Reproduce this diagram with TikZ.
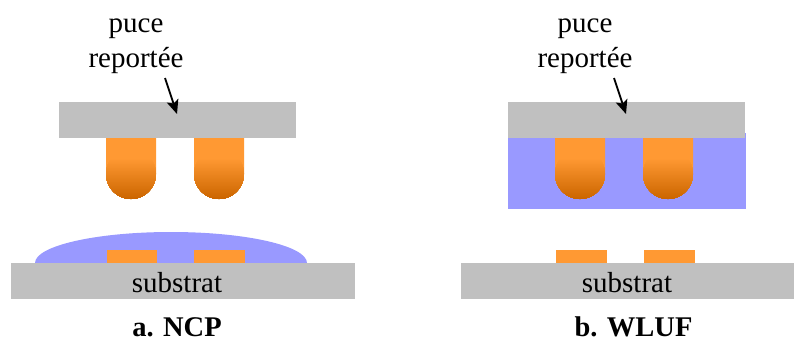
\documentclass[tikz,border=0pt]{standalone}
\usepackage{fontspec}
\setmainfont{Liberation Serif}
\usetikzlibrary{arrows.meta}
\definecolor{chipgrey}{HTML}{C0C0C0}
\definecolor{bumporange}{HTML}{FF9933}
\definecolor{bumpdark}{HTML}{CC6600}
\definecolor{glue}{HTML}{9999FF}
\tikzset{
  x=1pt,y=-1pt,
  plate/.style={fill=chipgrey,draw=none,inner sep=0pt,anchor=north west},
  pad/.style={fill=bumporange,draw=none},
  gluefill/.style={fill=glue,draw=none},
  lbl/.style={inner sep=0pt,align=center,font=\fontsize{29}{35}\selectfont,text=black},
  caption/.style={inner sep=0pt,anchor=base,font=\fontsize{28.5}{32}\selectfont\bfseries,text=black},
  pointer/.style={draw=black,line width=1.8pt,-{Stealth[length=14pt,width=12pt,inset=3pt]}}
}
\newcommand{\bump}[1]{%
  \fill[bumporange] (#1,138) -- (#1+50,138) -- (#1+50,174) arc[start angle=0,end angle=-180,radius=25pt] -- cycle;
  \foreach \d in {-16,-15,...,24}{
    \pgfmathsetmacro{\ph}{asin(\d/25)}
    \pgfmathsetmacro{\mx}{(\d+16)*100/40}
    \pgfmathsetmacro{\xr}{#1+25+25*cos(\ph)}
    \pgfmathsetmacro{\ys}{174+\d}
    \pgfmathsetmacro{\ea}{-180+\ph}
    \pgfmathsetmacro{\sa}{-\ph}
    \fill[bumpdark!\mx!bumporange] (\xr,\ys) arc[start angle=\sa,end angle=\ea,radius=25pt] -- cycle;
  }
}
\begin{document}
\begin{tikzpicture}
\useasboundingbox (0,0) rectangle (794,340);
\clip (0,0) rectangle (794,340);
\fill[white] (0,0) rectangle (794,340);
% left
\fill[gluefill] (35,263) arc[start angle=180,end angle=0,x radius=136pt,y radius=31pt] -- cycle;
\fill[pad] (107,250) rectangle (157,263);
\fill[pad] (194,250) rectangle (245,263);
\node[plate,minimum width=344pt,minimum height=36pt] (subA) at (11,263) {};
\node[lbl,anchor=base] at (177,292) {substrat};
\bump{106}
\bump{194}
\node[plate,minimum width=237pt,minimum height=36pt] (chipA) at (59,102) {};
\node[lbl] (puceA) at (136,46) {puce\\reportée};
\coordinate (startA) at (165,78);
\coordinate (tipA) at (177,114);
\draw[pointer] (startA) -- (tipA);
\node[caption] at (177,336.5) {a. NCP};
% right
\fill[gluefill] (508,133) rectangle (746,209);
\bump{555}
\bump{643}
\node[plate,minimum width=237pt,minimum height=36pt] (chipB) at (508,102) {};
\fill[pad] (556,250) rectangle (607,263);
\fill[pad] (644,250) rectangle (695,263);
\node[plate,minimum width=344pt,minimum height=36pt] (subB) at (461,263) {};
\node[lbl,anchor=base] at (627,292) {substrat};
\node[lbl] (puceB) at (585,46) {puce\\reportée};
\coordinate (startB) at (614,78);
\coordinate (tipB) at (626,114);
\draw[pointer] (startB) -- (tipB);
\node[caption] at (633.5,336.5) {b. WLUF};
\end{tikzpicture}
\end{document}
